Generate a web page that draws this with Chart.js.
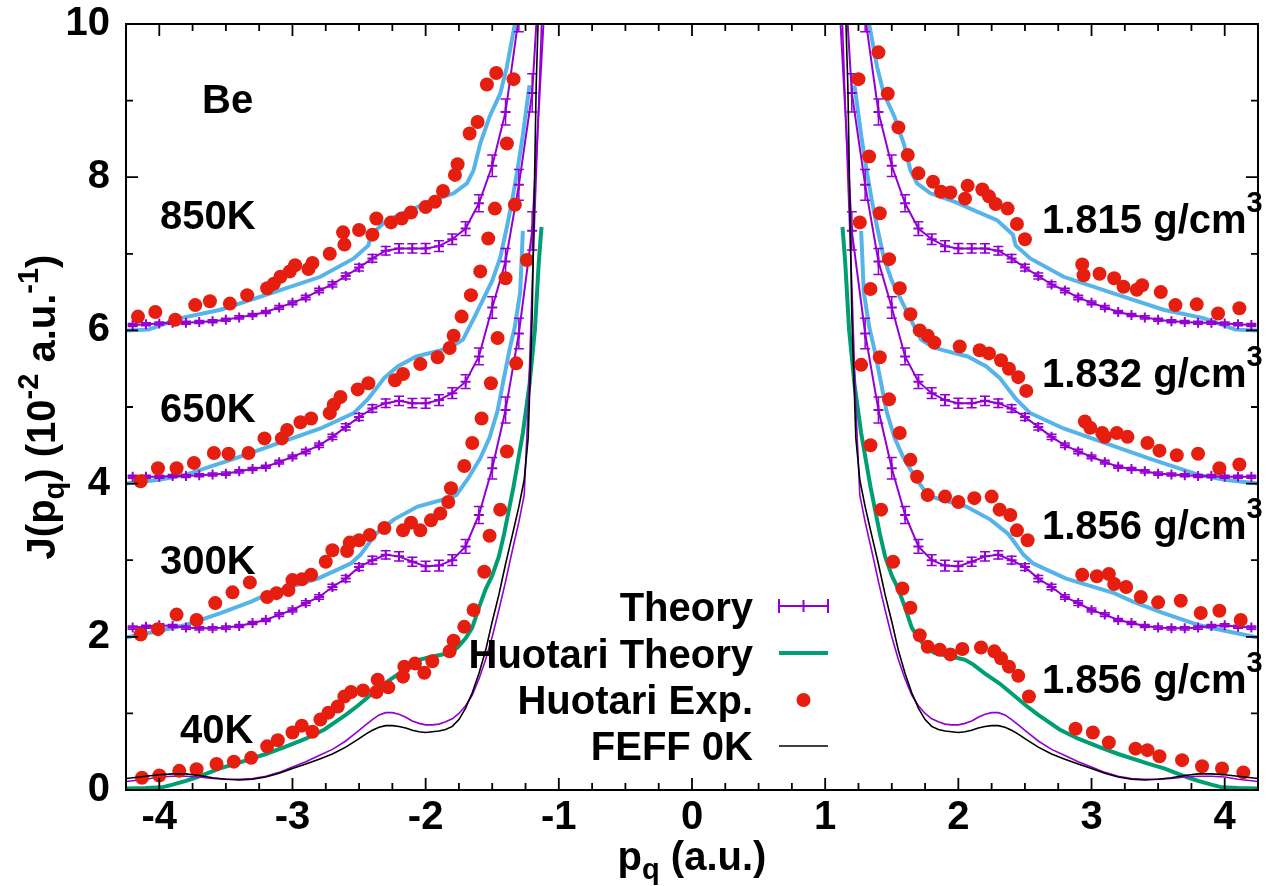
<!DOCTYPE html>
<html>
<head>
<meta charset="utf-8">
<title>Be Compton profile</title>
<script src="https://cdn.jsdelivr.net/npm/chart.js@4.4.1/dist/chart.umd.min.js"></script>
<style>
  html, body { margin: 0; padding: 0; background: #fff; }
  #wrap { width: 1274px; height: 886px; position: relative; }
</style>
</head>
<body>
<div id="wrap"><canvas id="c"></canvas></div>
<script>
// Compton profiles J(p_q) of Be. Curves at 300K, 650K and 850K are shifted up by 2, 4 and 6.

// ---- axes ----
const xTickValues = [-4, -3, -2, -1, 0, 1, 2, 3, 4];
const yTickValues = [0, 2, 4, 6, 8, 10];

// ---- theory with error bars (positive p branch, profile is symmetric) ----
const pTheory = [1.1, 1.2, 1.3, 1.4, 1.5, 1.6, 1.7, 1.8, 1.9, 2.0, 2.1, 2.2, 2.3, 2.4, 2.5, 2.6,
                 2.7, 2.8, 2.9, 3.0, 3.1, 3.2, 3.3, 3.4, 3.5, 3.6, 3.7, 3.8, 3.9, 4.0, 4.1, 4.2];
const theory300K = [10.5, 7.3, 5.96, 4.96, 4.20, 3.59, 3.18, 3.00, 2.93, 2.92, 2.98, 3.05, 3.07, 3.00, 2.91, 2.76,
                    2.65, 2.52, 2.44, 2.35, 2.29, 2.22, 2.18, 2.14, 2.12, 2.11, 2.11, 2.12, 2.14, 2.15, 2.13, 2.12];
const theory650K = [12.0, 9.1, 7.9, 6.9, 6.3, 5.66, 5.33, 5.18, 5.09, 5.05, 5.05, 5.08, 5.05, 4.98, 4.87, 4.74,
                    4.61, 4.50, 4.42, 4.35, 4.28, 4.22, 4.19, 4.16, 4.13, 4.12, 4.11, 4.10, 4.10, 4.09, 4.09, 4.09];
const theory850K = [13.5, 11.5, 10.1, 8.85, 8.15, 7.66, 7.33, 7.19, 7.10, 7.07, 7.07, 7.07, 7.04, 6.94, 6.82, 6.71,
                    6.60, 6.52, 6.43, 6.36, 6.30, 6.24, 6.20, 6.17, 6.14, 6.12, 6.11, 6.10, 6.10, 6.09, 6.08, 6.07];
const theoryErr = [0.30, 0.25, 0.20, 0.17, 0.14, 0.11, 0.09, 0.07, 0.07, 0.065, 0.06, 0.06, 0.055, 0.05, 0.045, 0.04,
                   0.035, 0.03, 0.03, 0.025, 0.025, 0.02, 0.02, 0.02, 0.02, 0.02, 0.02, 0.02, 0.02, 0.02, 0.02, 0.02];

// ---- 40K theory and FEFF 0K (positive p branch) ----
const pFine = [1.10, 1.13, 1.17, 1.20, 1.23, 1.26, 1.30, 1.35, 1.40, 1.45, 1.50, 1.55, 1.60, 1.65, 1.70, 1.75,
               1.80, 1.85, 1.90, 1.95, 2.00, 2.05, 2.10, 2.15, 2.20, 2.25, 2.30, 2.35, 2.40, 2.45, 2.50, 2.60,
               2.70, 2.80, 2.90, 3.00, 3.10, 3.20, 3.30, 3.40, 3.50, 3.60, 3.70, 3.80, 3.90, 4.00, 4.10, 4.20, 4.25];
const theory40K = [11.5, 10.0, 8.0, 6.6, 5.0, 3.85, 3.50, 3.12, 2.72, 2.35, 2.00, 1.70, 1.45, 1.24, 1.10, 1.00,
                   0.93, 0.89, 0.86, 0.85, 0.85, 0.87, 0.90, 0.95, 0.99, 1.01, 1.01, 0.98, 0.92, 0.85, 0.78, 0.64,
                   0.53, 0.45, 0.37, 0.30, 0.23, 0.18, 0.15, 0.14, 0.14, 0.15, 0.17, 0.18, 0.18, 0.17, 0.14, 0.12, 0.11];
const feff0K = [13.0, 11.5, 9.2, 6.2, 4.6, 4.05, 3.70, 3.32, 2.95, 2.55, 2.20, 1.82, 1.52, 1.27, 1.07, 0.92,
                0.83, 0.79, 0.77, 0.76, 0.75, 0.76, 0.78, 0.81, 0.83, 0.84, 0.84, 0.82, 0.78, 0.73, 0.67, 0.56,
                0.47, 0.40, 0.34, 0.28, 0.22, 0.17, 0.14, 0.13, 0.14, 0.16, 0.19, 0.21, 0.21, 0.20, 0.18, 0.16, 0.15];

// ---- Huotari theory, 40K (positive p branch) ----
const pHuotari = [1.13, 1.15, 1.18, 1.22, 1.27, 1.34, 1.41, 1.45, 1.50, 1.55, 1.60, 1.65, 1.70, 1.76, 1.82, 1.90,
                  1.98, 2.05, 2.11, 2.20, 2.31, 2.40, 2.51, 2.60, 2.76, 2.90, 3.06, 3.20, 3.43, 3.55, 3.65, 3.73,
                  3.80, 3.90, 3.98, 4.10, 4.25];
const huotariTheory = [7.35, 6.90, 6.00, 5.30, 4.66, 3.96, 3.35, 3.05, 2.80, 2.62, 2.38, 2.12, 1.98, 1.86, 1.79, 1.76,
                       1.73, 1.70, 1.64, 1.52, 1.39, 1.26, 1.10, 0.98, 0.79, 0.67, 0.56, 0.47, 0.34, 0.28, 0.21, 0.16,
                       0.12, 0.07, 0.035, 0.025, 0.02];

// ---- sky-blue reference curves at the shifted densities (positive p branch) ----
const pBlue300 = [1.27, 1.29, 1.33, 1.37, 1.42, 1.46, 1.52, 1.59, 1.68, 1.77, 1.85, 2.06, 2.24, 2.37, 2.41, 2.49,
                  2.56, 2.67, 2.81, 3.17, 3.31, 3.54, 3.81, 4.00, 4.25];
const blue300 = [7.30, 6.50, 6.05, 5.75, 5.31, 4.95, 4.60, 4.33, 4.07, 3.85, 3.80, 3.70, 3.53, 3.35, 3.26, 3.07,
                 2.96, 2.87, 2.76, 2.57, 2.46, 2.31, 2.15, 2.08, 1.99];
const pBlue650 = [1.22, 1.27, 1.31, 1.35, 1.39, 1.44, 1.50, 1.57, 1.64, 1.72, 1.81, 1.89, 2.07, 2.21, 2.31, 2.43,
                  2.54, 2.79, 3.20, 3.43, 3.81, 4.00, 4.25];
const blue650 = [9.20, 8.55, 8.10, 7.70, 7.35, 6.95, 6.65, 6.40, 6.15, 5.88, 5.78, 5.74, 5.66, 5.53, 5.38, 5.11,
                 4.92, 4.72, 4.47, 4.33, 4.11, 4.05, 4.00];
const pBlue850 = [1.30, 1.33, 1.39, 1.44, 1.52, 1.59, 1.64, 1.69, 1.79, 1.97, 2.14, 2.29, 2.41, 2.43, 2.54, 2.79,
                  3.17, 3.54, 3.84, 4.08, 4.25];
const blue850 = [10.4, 10.0, 9.44, 9.09, 8.79, 8.44, 8.09, 7.92, 7.79, 7.68, 7.55, 7.44, 7.25, 7.11, 6.94, 6.70,
                 6.48, 6.27, 6.16, 6.01, 6.00];

// ---- Huotari experiment [p_q, J] ----
const exp40KLeft = [[-4.13,0.16],[-4.00,0.19],[-3.85,0.25],[-3.72,0.27],[-3.57,0.34],[-3.44,0.37],[-3.31,0.42],
  [-3.19,0.57],[-3.11,0.65],[-3.00,0.75],[-2.93,0.84],[-2.85,0.76],[-2.79,0.92],[-2.73,1.01],[-2.66,1.09],
  [-2.61,1.22],[-2.56,1.28],[-2.47,1.30],[-2.37,1.28],[-2.36,1.44],[-2.28,1.34],[-2.17,1.48],[-2.16,1.61],
  [-2.08,1.65],[-2.01,1.53],[-1.95,1.68],[-1.82,1.81],[-1.79,1.95],[-1.71,2.13],[-1.64,2.35],[-1.56,2.85],
  [-1.52,3.32],[-1.44,3.66],[-1.39,4.42],[-1.32,5.57],[-1.24,6.92]];
const exp40KRight = [[1.27,5.55],[1.34,4.50],[1.42,3.66],[1.51,2.98],[1.58,2.63],[1.64,2.38],[1.71,2.02],
  [1.77,1.87],[1.86,1.83],[1.94,1.77],[2.03,1.84],[2.17,1.86],[2.27,1.81],[2.32,1.72],[2.38,1.61],[2.45,1.49],
  [2.53,1.22],[2.88,0.80],[3.01,0.75],[3.13,0.62],[3.33,0.54],[3.42,0.52],[3.51,0.44],[3.68,0.39],[3.83,0.31],
  [3.98,0.28],[4.14,0.23]];
const exp300KLeft = [[-4.14,2.03],[-4.01,2.10],[-3.87,2.29],[-3.72,2.22],[-3.58,2.44],[-3.45,2.58],[-3.32,2.71],
  [-3.19,2.52],[-3.12,2.57],[-3.03,2.61],[-3.00,2.74],[-2.93,2.75],[-2.86,2.81],[-2.75,2.98],[-2.70,3.13],
  [-2.59,3.12],[-2.57,3.23],[-2.50,3.26],[-2.42,3.33],[-2.31,3.42],[-2.17,3.39],[-2.11,3.49],[-2.04,3.39],
  [-1.96,3.52],[-1.89,3.61],[-1.83,3.76],[-1.81,3.94],[-1.71,4.23],[-1.65,4.53],[-1.58,4.85],[-1.51,5.31],
  [-1.46,5.90],[-1.40,6.68],[-1.33,7.64]];
const exp300KRight = [[1.26,7.41],[1.34,6.54],[1.41,5.65],[1.48,5.10],[1.56,4.66],[1.64,4.31],[1.69,4.09],
  [1.77,3.85],[1.90,3.83],[2.00,3.76],[2.12,3.81],[2.25,3.83],[2.31,3.66],[2.39,3.59],[2.44,3.39],[2.52,3.26],
  [2.93,2.81],[3.04,2.79],[3.13,2.82],[3.17,2.69],[3.26,2.65],[3.37,2.52],[3.50,2.45],[3.67,2.47],[3.82,2.31],
  [3.96,2.34],[4.12,2.22]];
const exp650KLeft = [[-4.14,4.03],[-4.01,4.20],[-3.87,4.20],[-3.74,4.27],[-3.59,4.40],[-3.48,4.39],[-3.33,4.40],
  [-3.21,4.59],[-3.08,4.59],[-3.04,4.70],[-2.94,4.80],[-2.86,4.85],[-2.72,4.92],[-2.69,5.03],[-2.64,5.13],
  [-2.51,5.23],[-2.43,5.31],[-2.23,5.35],[-2.17,5.43],[-2.04,5.56],[-1.91,5.65],[-1.82,5.77],[-1.79,5.93],
  [-1.73,6.18],[-1.66,6.46],[-1.59,6.77],[-1.53,7.20],[-1.48,7.59],[-1.39,8.44],[-1.34,9.28]];
const exp650KRight = [[1.25,9.28],[1.33,8.27],[1.41,7.53],[1.48,6.93],[1.56,6.55],[1.64,6.21],[1.71,6.00],
  [1.77,5.93],[1.82,5.84],[2.01,5.79],[2.16,5.74],[2.23,5.70],[2.32,5.61],[2.38,5.50],[2.45,5.39],[2.51,5.21],
  [2.95,4.81],[2.99,4.73],[3.08,4.66],[3.10,4.61],[3.19,4.66],[3.27,4.61],[3.42,4.53],[3.51,4.43],[3.64,4.37],
  [3.80,4.39],[3.96,4.20],[4.11,4.25]];
const exp850KLeft = [[-4.16,6.18],[-4.03,6.24],[-3.88,6.14],[-3.73,6.33],[-3.62,6.38],[-3.47,6.35],[-3.34,6.46],
  [-3.19,6.55],[-3.14,6.61],[-3.09,6.70],[-3.02,6.77],[-2.98,6.85],[-2.88,6.80],[-2.85,6.88],[-2.72,7.00],
  [-2.62,7.28],[-2.61,7.12],[-2.50,7.31],[-2.40,7.25],[-2.37,7.46],[-2.26,7.41],[-2.18,7.46],[-2.11,7.54],
  [-2.00,7.61],[-1.93,7.68],[-1.87,7.82],[-1.78,8.03],[-1.76,8.17],[-1.67,8.57],[-1.61,8.72],[-1.54,9.21],
  [-1.47,9.36]];
const exp850KRight = [[1.40,9.63],[1.47,9.09],[1.55,8.65],[1.62,8.29],[1.70,8.05],[1.81,7.94],[1.87,7.81],
  [1.94,7.80],[2.05,7.72],[2.07,7.89],[2.18,7.84],[2.23,7.75],[2.28,7.65],[2.37,7.59],[2.44,7.39],[2.50,7.19],
  [2.93,6.86],[2.94,6.72],[3.06,6.74],[3.17,6.68],[3.24,6.57],[3.34,6.53],[3.38,6.59],[3.52,6.50],[3.63,6.33],
  [3.79,6.34],[3.95,6.22],[4.11,6.29]];

// ---- colours ----
const PURPLE = '#9400d3', GREEN = '#009e73', RED = '#e51e10', SKY = '#56b4e9', BLACK = '#000000';
const FONT = '"Liberation Sans", Arial, Helvetica, sans-serif';

// one branch of a symmetric profile: sign = +1 (p > 0) or -1 (p < 0)
function branch(ps, js, sign) {
  return ps.map((p, i) => ({ x: sign * p, y: js[i] }));
}
function pairs(list) {
  return list.map(([p, j]) => ({ x: p, y: j }));
}

const datasets = [];
function addLine(ps, js, color, width, extra) {
  [-1, 1].forEach(s => datasets.push(Object.assign({
    data: branch(ps, js, s), showLine: true, borderColor: color, borderWidth: width,
    pointRadius: 0, fill: false, tension: 0, clip: 0
  }, extra || {})));
}
function addErrLine(ps, js, errs) {
  [-1, 1].forEach(s => datasets.push({
    data: branch(ps, js, s), showLine: true, borderColor: PURPLE, borderWidth: 2,
    pointStyle: 'cross', pointRadius: 5, pointBorderWidth: 2, pointBorderColor: PURPLE,
    pointBackgroundColor: PURPLE, errorBars: errs, clip: 0
  }));
}
function addDots(list) {
  datasets.push({
    data: pairs(list), showLine: false, pointRadius: 7, pointBorderWidth: 0,
    pointBackgroundColor: RED, pointBorderColor: RED, clip: 0
  });
}

// first dataset is painted last (on top)
addLine(pFine, feff0K, BLACK, 1.6);
[exp40KLeft, exp40KRight, exp300KLeft, exp300KRight,
 exp650KLeft, exp650KRight, exp850KLeft, exp850KRight].forEach(addDots);
addLine(pFine, theory40K, PURPLE, 1.6);
addErrLine(pTheory, theory300K, theoryErr);
addErrLine(pTheory, theory650K, theoryErr);
addErrLine(pTheory, theory850K, theoryErr);
addLine(pHuotari, huotariTheory, GREEN, 4);
addLine(pBlue300, blue300, SKY, 4);
addLine(pBlue650, blue650, SKY, 4);
addLine(pBlue850, blue850, SKY, 4);

// vertical error bars with caps, drawn right after their dataset
const errorBarPlugin = {
  id: 'errorBars',
  afterDatasetDraw(chart, args) {
    const ds = chart.data.datasets[args.index];
    if (!ds.errorBars) return;
    const { ctx, chartArea: a, scales: { x, y } } = chart;
    ctx.save();
    ctx.beginPath();
    ctx.rect(a.left, a.top, a.right - a.left, a.bottom - a.top);
    ctx.clip();
    ctx.strokeStyle = ds.borderColor;
    ctx.lineWidth = 1.5;
    ds.data.forEach((pt, i) => {
      const e = ds.errorBars[i];
      const px = x.getPixelForValue(pt.x);
      const y1 = y.getPixelForValue(pt.y - e), y2 = y.getPixelForValue(pt.y + e);
      ctx.beginPath();
      ctx.moveTo(px, y1); ctx.lineTo(px, y2);
      ctx.moveTo(px - 5, y1); ctx.lineTo(px + 5, y1);
      ctx.moveTo(px - 5, y2); ctx.lineTo(px + 5, y2);
      ctx.stroke();
    });
    ctx.restore();
  }
};

// text runs with sub/superscripts: [text, size, baseline shift]
function runsWidth(ctx, runs) {
  return runs.reduce((w, r) => { ctx.font = 'bold ' + r[1] + 'px ' + FONT; return w + ctx.measureText(r[0]).width; }, 0);
}
function drawRuns(ctx, runs, x0, y0) {
  let x = x0;
  runs.forEach(r => {
    ctx.font = 'bold ' + r[1] + 'px ' + FONT;
    ctx.fillText(r[0], x, y0 + r[2]);
    x += ctx.measureText(r[0]).width;
  });
  return x;
}

const decorPlugin = {
  id: 'decor',
  afterDraw(chart) {
    const { ctx, chartArea: a, scales: { x, y } } = chart;
    ctx.save();
    ctx.strokeStyle = '#000';
    ctx.fillStyle = '#000';
    ctx.lineWidth = 1.8;
    ctx.lineCap = 'butt';

    // tick marks pointing inward on all four sides
    ctx.beginPath();
    for (let k = -17; k <= 17; k++) {
      const v = k / 4;
      const px = x.getPixelForValue(v);
      if (px <= a.left + 1 || px >= a.right - 1) continue;
      const len = (k % 4 === 0) ? 12 : 7;
      ctx.moveTo(px, a.bottom); ctx.lineTo(px, a.bottom - len);
      ctx.moveTo(px, a.top); ctx.lineTo(px, a.top + len);
    }
    for (let v = 1; v < 10; v++) {
      const py = y.getPixelForValue(v);
      const len = (v % 2 === 0) ? 12 : 7;
      ctx.moveTo(a.left, py); ctx.lineTo(a.left + len, py);
      ctx.moveTo(a.right, py); ctx.lineTo(a.right - len, py);
    }
    ctx.stroke();
    ctx.lineWidth = 2;
    ctx.strokeRect(a.left, a.top, a.right - a.left, a.bottom - a.top);

    // axis titles
    ctx.textAlign = 'left';
    ctx.textBaseline = 'alphabetic';
    const xTitle = [['p', 40, 0], ['q', 29, 9], [' (a.u.)', 40, 0]];
    const cx = (a.left + a.right) / 2;
    drawRuns(ctx, xTitle, cx - runsWidth(ctx, xTitle) / 2, 870);

    const yTitle = [['J(p', 40, 0], ['q', 29, 9], [') (10', 40, 0], ['-2', 29, -17],
                    [' a.u.', 40, 0], ['-1', 29, -17], [')', 40, 0]];
    ctx.save();
    ctx.translate(55, (a.top + a.bottom) / 2);
    ctx.rotate(-Math.PI / 2);
    drawRuns(ctx, yTitle, -runsWidth(ctx, yTitle) / 2, 0);
    ctx.restore();

    // curve labels
    ctx.font = 'bold 40px ' + FONT;
    [['Be', 202, 113], ['850K', 160, 229], ['650K', 160, 422], ['300K', 160, 574], ['40K', 180, 743]]
      .forEach(([t, lx, ly]) => ctx.fillText(t, lx, ly));
    [['1.815', 233], ['1.832', 387], ['1.856', 539], ['1.856', 693]].forEach(([d, ly]) => {
      drawRuns(ctx, [[d + ' g/cm', 40, 0], ['3', 29, -21]], 1042, ly);
    });

    // key
    ctx.textAlign = 'right';
    ctx.font = 'bold 40px ' + FONT;
    const keyX = 753, s0 = 779, s1 = 828, sm = (s0 + s1) / 2;
    const rows = [621, 668, 714, 760];
    ['Theory', 'Huotari Theory', 'Huotari Exp.', 'FEFF 0K'].forEach((t, i) => ctx.fillText(t, keyX, rows[i]));
    // Theory sample: line with end caps and centre mark
    let ky = rows[0] - 15;
    ctx.strokeStyle = PURPLE; ctx.lineWidth = 2;
    ctx.beginPath();
    ctx.moveTo(s0, ky); ctx.lineTo(s1, ky);
    ctx.moveTo(s0, ky - 7); ctx.lineTo(s0, ky + 7);
    ctx.moveTo(s1, ky - 7); ctx.lineTo(s1, ky + 7);
    ctx.moveTo(sm, ky - 6); ctx.lineTo(sm, ky + 6);
    ctx.stroke();
    ky = rows[1] - 15;
    ctx.strokeStyle = GREEN; ctx.lineWidth = 4;
    ctx.beginPath(); ctx.moveTo(s0, ky); ctx.lineTo(s1, ky); ctx.stroke();
    ky = rows[2] - 14;
    ctx.fillStyle = RED;
    ctx.beginPath(); ctx.arc(sm, ky, 7, 0, 2 * Math.PI); ctx.fill();
    ky = rows[3] - 14;
    ctx.strokeStyle = BLACK; ctx.lineWidth = 1.6;
    ctx.beginPath(); ctx.moveTo(s0, ky); ctx.lineTo(s1, ky); ctx.stroke();
    ctx.restore();
  }
};

new Chart(document.getElementById('c'), {
  type: 'scatter',
  data: { datasets },
  options: {
    responsive: true,
    maintainAspectRatio: false,
    animation: false,
    events: [],
    layout: { padding: { left: 0, top: 24, right: 16, bottom: 0 } },
    plugins: { legend: { display: false }, tooltip: { enabled: false } },
    scales: {
      x: {
        type: 'linear', min: -4.25, max: 4.25,
        grid: { display: false, drawTicks: false },
        border: { display: false },
        afterBuildTicks: s => { s.ticks = xTickValues.map(v => ({ value: v })); },
        afterFit: s => { s.height = 96; s.paddingLeft = 0; s.paddingRight = 0; },
        ticks: {
          autoSkip: false, maxRotation: 0, padding: 8, color: '#000',
          font: { family: FONT, size: 40, weight: 'bold', lineHeight: 1 },
          callback: v => String(v)
        }
      },
      y: {
        type: 'linear', min: 0, max: 10,
        grid: { display: false, drawTicks: false },
        border: { display: false },
        afterBuildTicks: s => { s.ticks = yTickValues.map(v => ({ value: v })); },
        afterFit: s => { s.width = 126; s.paddingTop = 0; s.paddingBottom = 0; },
        ticks: {
          padding: 16, color: '#000',
          font: { family: FONT, size: 40, weight: 'bold', lineHeight: 1 },
          callback: v => String(v)
        }
      }
    }
  },
  plugins: [errorBarPlugin, decorPlugin]
});
</script>
</body>
</html>
